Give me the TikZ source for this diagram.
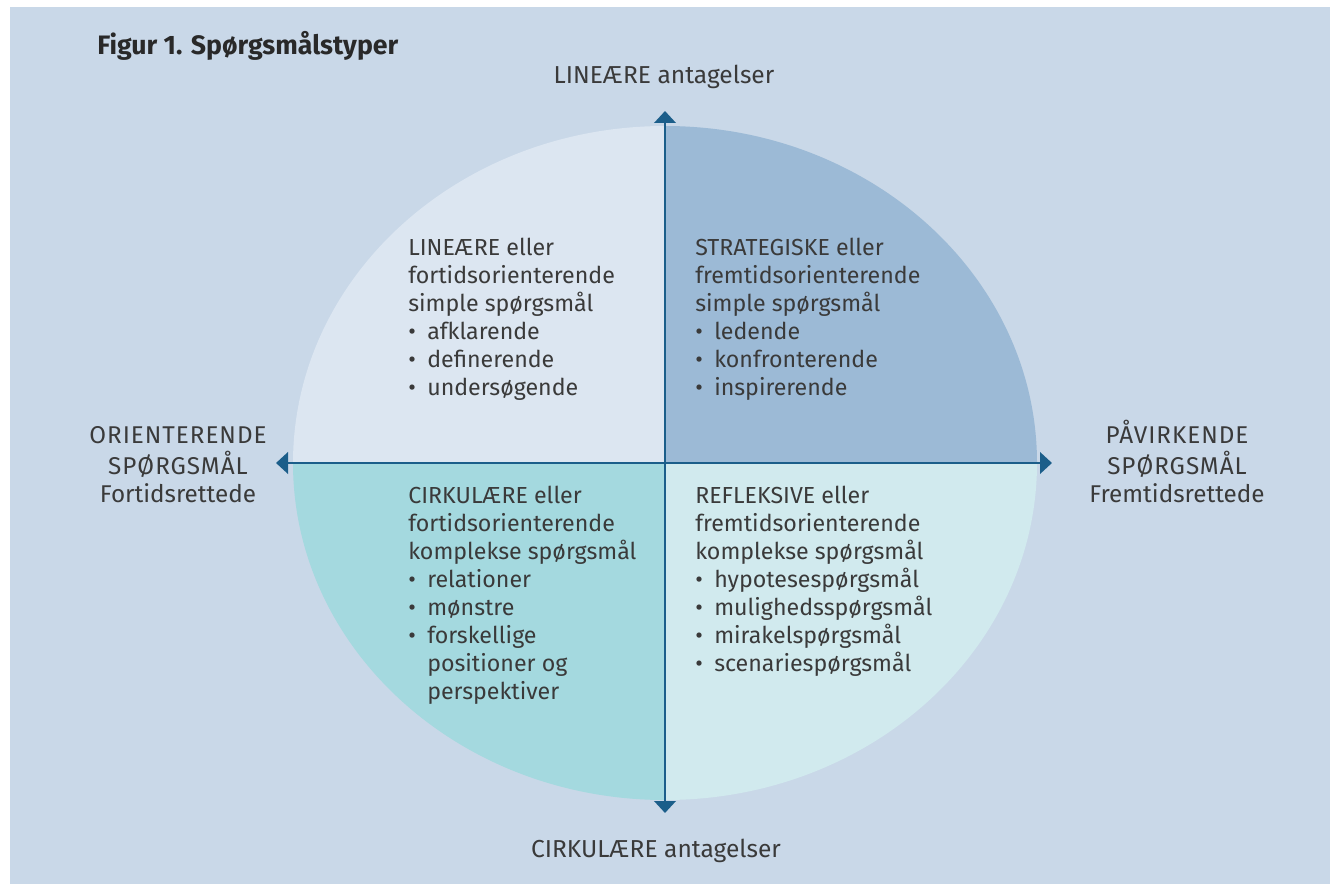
\documentclass[tikz,border=0pt]{standalone}
\usepackage{fontspec}
\setmainfont{Fira Sans}
\newfontfamily\spacedcaps[LetterSpace=4]{Fira Sans}
\usetikzlibrary{arrows.meta}

\definecolor{panel}{HTML}{C9D8E8}
\definecolor{qtl}{HTML}{DCE6F1}
\definecolor{qtr}{HTML}{9CBAD6}
\definecolor{qbl}{HTML}{A4D9DF}
\definecolor{qbr}{HTML}{D1EAEE}
\definecolor{axisblue}{HTML}{1B5E8A}
\definecolor{ink}{HTML}{3A3A3A}

\newlength{\pxu}
\setlength{\pxu}{0.75pt}
\newcommand{\bul}[1]{\makebox[19\pxu][l]{\textbullet}#1}
\newcommand{\cont}[1]{\hspace*{19\pxu}#1}
% stacked lines whose baseline is the first line's baseline
\newcommand{\leftstack}[1]{\begin{tabular}[t]{@{}l@{}}#1\end{tabular}}
\newcommand{\centerstack}[1]{\begin{tabular}[t]{@{}c@{}}#1\end{tabular}}

\tikzset{
  body/.style={inner sep=0pt, text=ink, anchor=base west,
    font=\fontsize{17.4}{21}\selectfont},
  side/.style={inner sep=0pt, text=ink, anchor=base,
    font=\fontsize{18.2}{20.6}\selectfont},
  pole/.style={inner sep=0pt, text=ink, anchor=base,
    font=\fontsize{18.4}{21}\selectfont},
  axisline/.style={draw=axisblue, line width=2.2pt,
    -{Triangle[width=16pt,length=9pt]}},
}

\begin{document}
\begin{tikzpicture}[x=0.75pt,y=-0.75pt]
  \useasboundingbox (0,0) rectangle (1330,884);
  \fill[panel] (10,7) rectangle (1330,884);

  % four quadrants of the ellipse
  \begin{scope}
    \clip (665,463) ellipse [x radius=372, y radius=337];
    \fill[qtl] (200,463) rectangle (665,100);
    \fill[qtr] (665,463) rectangle (1100,100);
    \fill[qbl] (200,463) rectangle (665,820);
    \fill[qbr] (665,463) rectangle (1100,820);
  \end{scope}

  % axes
  \coordinate (c) at (665,463);
  \coordinate (n) at (665,111);
  \coordinate (s) at (665,813);
  \coordinate (w) at (276,463);
  \coordinate (e) at (1052,463);
  \draw[axisline] (c) -- (n);
  \draw[axisline] (c) -- (s);
  \draw[axisline] (c) -- (w);
  \draw[axisline] (c) -- (e);

  % title
  \node[inner sep=0pt, anchor=base west, text=ink!70!black,
        font=\fontsize{20}{24}\selectfont\bfseries] (title) at (97,55)
        {Figur 1. Spørgsmålstyper};

  % pole labels
  \node[pole] (top) at (664,84) {LINEÆRE antagelser};
  \node[pole] (bottom) at (656,857) {CIRKULÆRE antagelser};
  \node[side] (left) at (178,443)
    {\centerstack{{\spacedcaps ORIENTERENDE}\\{\spacedcaps SPØRGSMÅL}\\Fortidsrettede}};
  \node[side] (right) at (1177,443)
    {\centerstack{{\spacedcaps PÅVIRKENDE}\\{\spacedcaps SPØRGSMÅL}\\Fremtidsrettede}};

  % quadrant texts
  \node[body] (tl) at (408,255)
    {\leftstack{LINEÆRE eller\\fortidsorienterende\\simple spørgsmål\\
     \bul{afklarende}\\\bul{definerende}\\\bul{undersøgende}}};
  \node[body] (tr) at (695,255)
    {\leftstack{STRATEGISKE eller\\fremtidsorienterende\\simple spørgsmål\\
     \bul{ledende}\\\bul{konfronterende}\\\bul{inspirerende}}};
  \node[body] (bl) at (408,503)
    {\leftstack{CIRKULÆRE eller\\fortidsorienterende\\komplekse spørgsmål\\
     \bul{relationer}\\\bul{mønstre}\\\bul{forskellige}\\
     \cont{positioner og}\\\cont{perspektiver}}};
  \node[body] (br) at (695,503)
    {\leftstack{REFLEKSIVE eller\\fremtidsorienterende\\komplekse spørgsmål\\
     \bul{hypotesespørgsmål}\\\bul{mulighedsspørgsmål}\\
     \bul{mirakelspørgsmål}\\\bul{scenariespørgsmål}}};
\end{tikzpicture}
\end{document}
